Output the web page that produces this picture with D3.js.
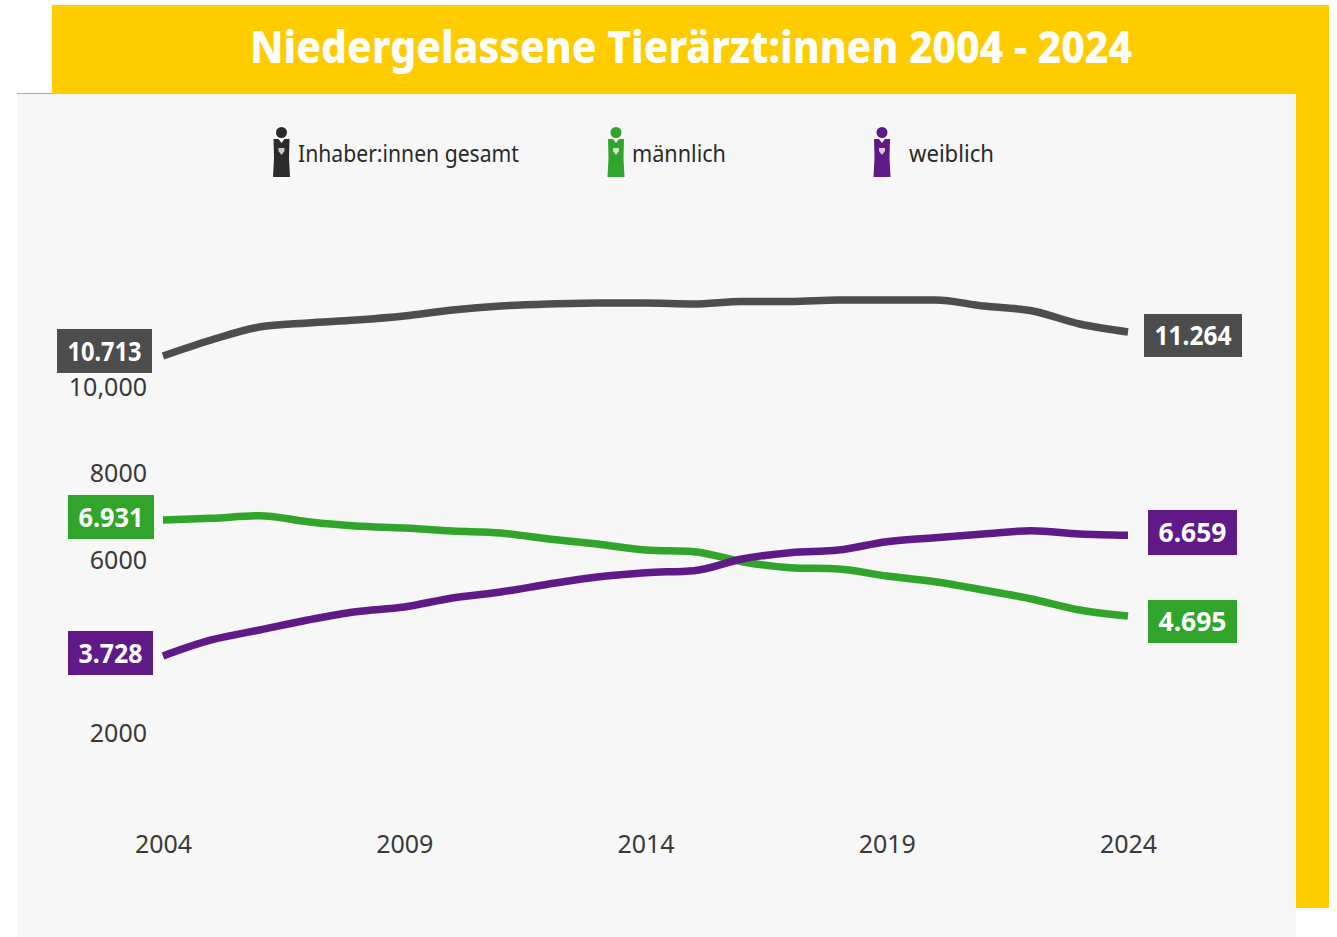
<!DOCTYPE html>
<html><head><meta charset="utf-8">
<script src="https://cdnjs.cloudflare.com/ajax/libs/d3/7.8.5/d3.min.js"></script>
<style>html,body{margin:0;padding:0;background:#fff;overflow:hidden}svg{display:block}
text{font-family:"Noto Sans",sans-serif}</style></head><body>
<svg id="c" width="1337" height="937"></svg>
<script>
const titleText = "Niedergelassene Tierärzt:innen 2004 - 2024";
const years = d3.range(2004, 2025);
const total = [10717,11087,11387,11480,11549,11642,11780,11873,11919,11942,11942,11919,11977,11977,12011,12011,12011,11873,11764,11457,11272];
const male = [6925,6964,7024,6886,6786,6740,6671,6624,6486,6370,6231,6192,5961,5822,5792,5630,5498,5307,5099,4844,4705];
const female = [3781,4151,4382,4613,4805,4914,5122,5260,5445,5607,5707,5753,6023,6169,6231,6423,6516,6601,6678,6601,6571];
const seriesNames = ["Inhaber:innen gesamt","männlich","weiblich"];
const seriesColors = ["#4d4d4d","#31a52b","#5f1a88"];
const legendColors = ["#2b2b2b","#31a52b","#5f1a88"];
const startLabels = ["10.713","6.931","3.728"];
const endLabels = ["11.264","6.659","4.695"];
const yTicks = [2000,6000,8000,10000];
const yTickLabels = ["2000","6000","8000","10,000"];
const xTicks = [2004,2009,2014,2019,2024];

const svg = d3.select("#c");
const x = d3.scaleLinear().domain([2004,2024]).range([163,1128]);
const y = d3.scaleLinear().domain([2000,10000]).range([733,387]);

svg.append("rect").attr("x",52).attr("y",5).attr("width",1277).attr("height",903).attr("fill","#ffcc00");
svg.append("rect").attr("x",17).attr("y",94).attr("width",1279).attr("height",843).attr("fill","#f7f7f7");
svg.append("line").attr("x1",17).attr("x2",52).attr("y1",93.5).attr("y2",93.5).attr("stroke","#aaa");
svg.append("text").attr("x",691).attr("y",63).attr("text-anchor","middle").attr("font-size",44).attr("font-weight",800)
  .attr("fill","#fff").attr("textLength",882).attr("lengthAdjust","spacingAndGlyphs").text(titleText);

const ay = svg.append("g").attr("transform","translate(147,0)").call(d3.axisLeft(y).tickValues(yTicks).tickSize(0).tickPadding(0).tickFormat((d,i)=>yTickLabels[i]));
const ax = svg.append("g").attr("transform","translate(0,844)").call(d3.axisBottom(x).tickValues(xTicks).tickSize(0).tickPadding(0).tickFormat(d3.format("d")));
[ay,ax].forEach(a=>{a.select(".domain").remove();a.selectAll("text").attr("font-size",25).attr("fill","#3a3a3a").style("font-family",'"Noto Sans",sans-serif');});
ax.selectAll("text").attr("dy","0.35em").attr("y",0);

const line = d3.line().x((d,i)=>x(years[i])).y(d=>y(d)).curve(d3.curveMonotoneX);
[total,male,female].forEach((s,i)=>svg.append("path").attr("d",line(s)).attr("fill","none").attr("stroke",seriesColors[i]).attr("stroke-width",7.5));

const boxes = [
 [0,startLabels[0],57,329,95,44],[1,startLabels[1],68,495,86,44],[2,startLabels[2],68,631,85,44],
 [0,endLabels[0],1144,314,98,43],[2,endLabels[1],1148,510,89,45],[1,endLabels[2],1148,600,89,43]];
boxes.forEach(([c,t,bx,by,w,h],k)=>{
  svg.append("rect").attr("x",bx).attr("y",by).attr("width",w).attr("height",h).attr("fill",seriesColors[c]);
  svg.append("text").attr("x",bx+w/2).attr("y",by+h/2+(k<3?10:9)).attr("text-anchor","middle").attr("font-size",26).attr("font-weight",700).attr("fill","#fff").attr("textLength",w-21).attr("lengthAdjust","spacingAndGlyphs").text(t);
});

const legendIconX = [281.5,616,882], legendTextX = [298,632,909], legendW=[221,94,85];
seriesNames.forEach((n,i)=>{
  const g = svg.append("g").attr("transform",`translate(${legendIconX[i]},0)`);
  g.append("circle").attr("cy",132.5).attr("r",5.5).attr("fill",legendColors[i]);
  g.append("path").attr("d","M-8,139L-3,139L0,143L3,139L8,139L7.5,158L8.5,177L-8.5,177L-7.5,158Z").attr("fill",legendColors[i]);
  g.append("path").attr("d","M-3,148L3,148L3,151L0,155L-3,151Z").attr("fill","#fff").attr("opacity",.75);
  svg.append("text").attr("x",legendTextX[i]).attr("y",162).attr("font-size",23).attr("fill","#2a2a2a").attr("textLength",legendW[i]).attr("lengthAdjust","spacingAndGlyphs").text(n);
});
</script></body></html>
